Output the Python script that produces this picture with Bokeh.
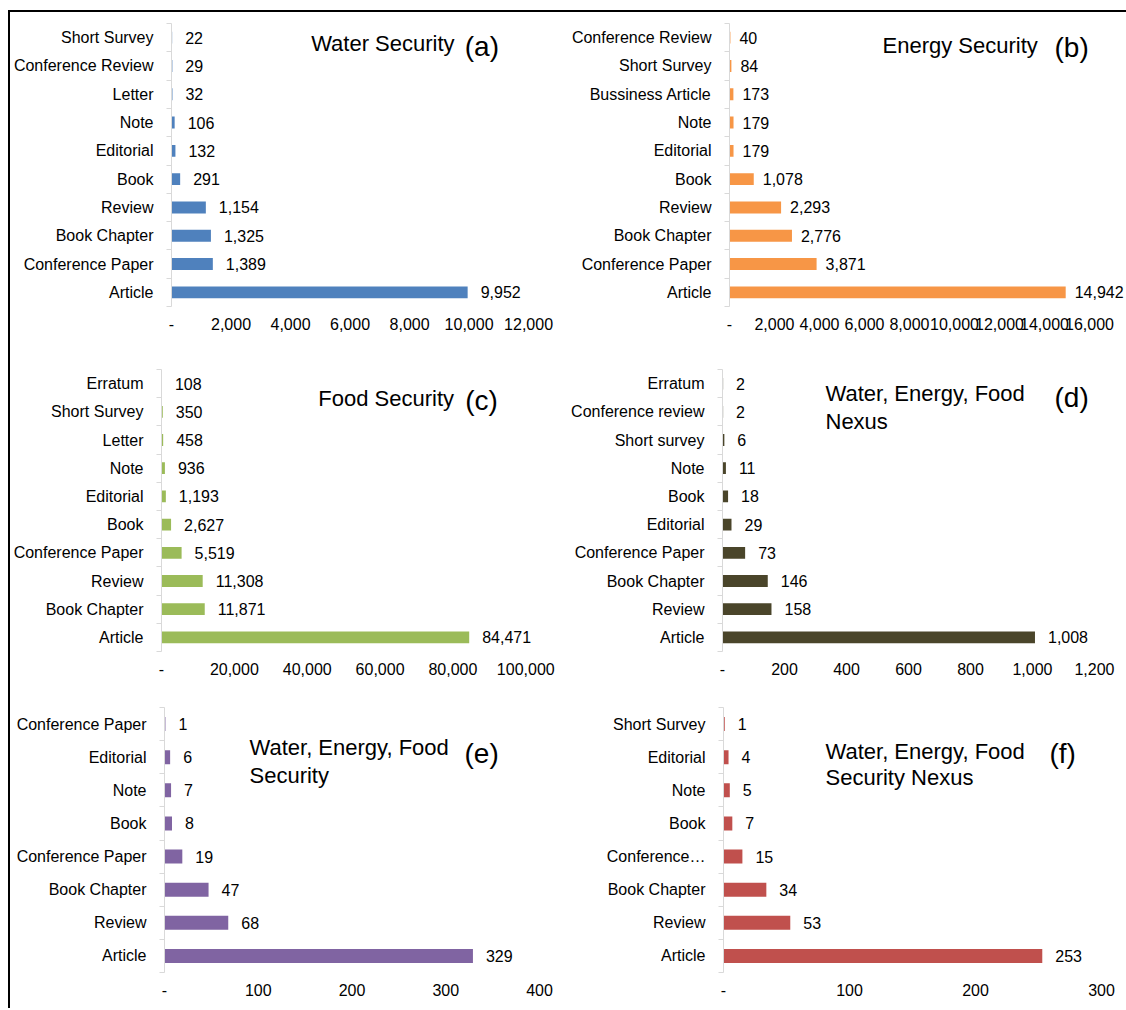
from bokeh.plotting import figure
from bokeh.layouts import column, row
from bokeh.models import FixedTicker, CustomJSTickFormatter, Label, Range1d, Spacer
from bokeh.core.properties import value
from bokeh.embed import file_html
from bokeh.resources import INLINE

FONT = "Liberation Sans"

# (a) Water Security
water_types = ["Short Survey", "Conference Review", "Letter", "Note", "Editorial",
               "Book", "Review", "Book Chapter", "Conference Paper", "Article"]
water_counts = [22, 29, 32, 106, 132, 291, 1154, 1325, 1389, 9952]
water_ticks = [0, 2000, 4000, 6000, 8000, 10000, 12000]

# (b) Energy Security
energy_types = ["Conference Review", "Short Survey", "Bussiness Article", "Note", "Editorial",
                "Book", "Review", "Book Chapter", "Conference Paper", "Article"]
energy_counts = [40, 84, 173, 179, 179, 1078, 2293, 2776, 3871, 14942]
energy_ticks = [0, 2000, 4000, 6000, 8000, 10000, 12000, 14000, 16000]

# (c) Food Security
food_types = ["Erratum", "Short Survey", "Letter", "Note", "Editorial",
              "Book", "Conference Paper", "Review", "Book Chapter", "Article"]
food_counts = [108, 350, 458, 936, 1193, 2627, 5519, 11308, 11871, 84471]
food_ticks = [0, 20000, 40000, 60000, 80000, 100000]

# (d) Water, Energy, Food Nexus
wef_nexus_types = ["Erratum", "Conference review", "Short survey", "Note", "Book",
                   "Editorial", "Conference Paper", "Book Chapter", "Review", "Article"]
wef_nexus_counts = [2, 2, 6, 11, 18, 29, 73, 146, 158, 1008]
wef_nexus_ticks = [0, 200, 400, 600, 800, 1000, 1200]

# (e) Water, Energy, Food Security
wef_security_types = ["Conference Paper", "Editorial", "Note", "Book",
                      "Conference Paper", "Book Chapter", "Review", "Article"]
wef_security_counts = [1, 6, 7, 8, 19, 47, 68, 329]
wef_security_ticks = [0, 100, 200, 300, 400]

# (f) Water, Energy, Food Security Nexus
wefs_nexus_types = ["Short Survey", "Editorial", "Note", "Book",
                    "Conference\u2026", "Book Chapter", "Review", "Article"]
wefs_nexus_counts = [1, 4, 5, 7, 15, 34, 53, 253]
wefs_nexus_ticks = [0, 100, 200, 300]

TEXT = "#000000"
GRID_GREY = "#D9D9D9"


def make_panel(types, counts, ticks, color, width, height, left, top, frame_h,
               tick_px, titles, label_gap=13):
    """Horizontal bar panel; first category drawn at the top.

    tick_px: pixel length from zero to the last tick value.
    titles: list of (text, dx, dy, size) in pixels relative to the frame corner.
    """
    n = len(types)
    frame_w = width - left
    px_per_unit = tick_px / ticks[-1]
    band = frame_h / n
    x_end = frame_w / px_per_unit
    ypos = [n - 1 - i for i in range(n)]

    p = figure(width=width, height=height,
               x_range=Range1d(0, x_end), y_range=Range1d(-0.5, n - 0.5),
               output_backend="svg", toolbar_location=None,
               min_border_left=left, min_border_right=0,
               min_border_top=top, min_border_bottom=height - top - frame_h)
    p.outline_line_color = None
    p.xgrid.visible = False
    p.ygrid.visible = False
    p.background_fill_color = "white"
    p.border_fill_color = "white"

    p.hbar(y=ypos, left=0, right=counts, height=0.42,
           fill_color=color, line_color=None)

    p.text(x=counts, y=ypos, text=[f"{v:,}" for v in counts],
           x_offset=label_gap, text_align="left", text_baseline="middle",
           text_font=value(FONT), text_font_size=value("16px"), text_color=TEXT)

    # value axis: labels only
    xa = p.xaxis[0]
    xa.ticker = FixedTicker(ticks=ticks, minor_ticks=[])
    xa.formatter = CustomJSTickFormatter(
        code="return tick == 0 ? '-' : Math.round(tick).toLocaleString('en-US');")
    xa.axis_line_color = None
    xa.major_tick_line_color = None
    xa.major_tick_out = 0
    xa.major_tick_in = 0
    xa.minor_tick_line_color = None
    xa.major_label_standoff = 11
    xa.major_label_text_font = FONT
    xa.major_label_text_font_size = "16px"
    xa.major_label_text_color = TEXT

    # category axis: light line, short ticks at the category boundaries
    ya = p.yaxis[0]
    ya.ticker = FixedTicker(ticks=list(range(n)),
                            minor_ticks=[i - 0.5 for i in range(n + 1)])
    ya.formatter = CustomJSTickFormatter(
        args=dict(labels=types),
        code="return labels[labels.length - 1 - Math.round(tick)];")
    ya.axis_line_color = GRID_GREY
    ya.axis_line_width = 1
    ya.major_tick_out = 0
    ya.major_tick_in = 0
    ya.major_tick_line_color = None
    ya.minor_tick_out = 5
    ya.minor_tick_in = 0
    ya.minor_tick_line_color = GRID_GREY
    ya.major_label_standoff = 13
    ya.major_label_text_font = FONT
    ya.major_label_text_font_size = "16px"
    ya.major_label_text_color = TEXT

    for text, dx, dy, size in titles:
        p.add_layout(Label(x=dx / px_per_unit, y=(n - 0.5) - dy / band,
                           text=text, text_font=FONT, text_font_size=size,
                           text_color=TEXT, text_align="left",
                           text_baseline="middle"))
    return p


TS = "22px"
LS = "28px"

pa = make_panel(water_types, water_counts, water_ticks, "#4F81BD",
                553, 333, 160, 11, 284, 358,
                [("Water Security", 140, 20, TS), ("(a)", 294, 23, LS)])
pb = make_panel(energy_types, energy_counts, energy_ticks, "#F79646",
                563, 333, 166, 9, 285, 360,
                [("Energy Security", 153, 22, TS), ("(b)", 325, 24, LS)],
                label_gap=9)
pc = make_panel(food_types, food_counts, food_ticks, "#9BBB59",
                553, 343, 148, 22, 284, 367,
                [("Food Security", 158, 29, TS), ("(c)", 306, 31, LS)])
pd = make_panel(wef_nexus_types, wef_nexus_counts, wef_nexus_ticks, "#4A452A",
                563, 343, 159, 24, 284, 372,
                [("Water, Energy,  Food", 103, 24, TS), ("Nexus", 103, 52, TS),
                 ("(d)", 332, 28, LS)])
pe = make_panel(wef_security_types, wef_security_counts, wef_security_ticks, "#8064A2",
                553, 320, 154, 19, 265, 375,
                [("Water, Energy,  Food", 85, 40, TS), ("Security", 85, 68, TS),
                 ("(e)", 300, 46, LS)])
pf = make_panel(wefs_nexus_types, wefs_nexus_counts, wefs_nexus_ticks, "#C0504D",
                563, 320, 160, 19, 265, 378,
                [("Water, Energy,  Food", 102, 44, TS), ("Security Nexus", 102, 70, TS),
                 ("(f)", 326, 46, LS)])

panels = column(row(pa, pb), row(pc, pd), row(pe, pf))

# black frame lines along the left and top of the composite
top_rule = Spacer(width=1116, height=2, styles={"background-color": "black"})
left_rule = Spacer(width=2, height=998, styles={"background-color": "black"})

layout = column(
    Spacer(width=1126, height=10),
    row(Spacer(width=8, height=998), left_rule, column(top_rule, panels)),
)

open("out.html", "w").write(file_html(layout, INLINE))
